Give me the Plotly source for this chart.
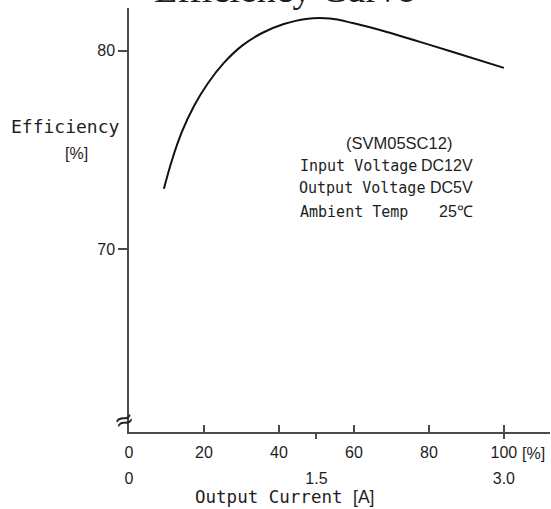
import plotly.graph_objects as go

# Data
load_pct = [9.3, 11.5, 14.1, 17.3, 21.1, 25.3, 30.1, 35.5, 41.3, 47.2, 53.6, 59.7, 68.8, 77.6, 86.4, 100.0]
efficiency = [73.03, 74.5, 75.9, 77.2, 78.37, 79.38, 80.24, 80.89, 81.34, 81.6, 81.62, 81.39, 80.94, 80.44, 79.93, 79.13]

pct_ticks = [0, 20, 40, 60, 80, 100]
amp_tick_vals = [0, 50, 100]
amp_tick_text = ["0", "1.5", "3.0"]
eff_ticks = [70, 80]

SANS = "Liberation Sans Narrow, Arial Narrow, Liberation Sans, Arial, sans-serif"
MONO = "DejaVu Sans Mono, monospace"
AXC = "#4a4a4a"
TXT = "#1e1e1e"

fig = go.Figure()
fig.add_trace(go.Scatter(x=load_pct, y=efficiency, mode="lines",
                         line=dict(color="#111", width=2, shape="spline", smoothing=1.0),
                         hoverinfo="skip", showlegend=False))
# invisible traces to activate extra axes
fig.add_trace(go.Scatter(x=[0], y=[70], xaxis="x2", yaxis="y", mode="markers",
                         marker=dict(opacity=0), showlegend=False, hoverinfo="skip"))
fig.add_trace(go.Scatter(x=[0], y=[70], xaxis="x3", yaxis="y", mode="markers",
                         marker=dict(opacity=0), showlegend=False, hoverinfo="skip"))

xr = [0, 112.3]
yr = [60.77, 82.15]

fig.update_layout(
    width=551, height=509,
    margin=dict(l=129, r=1, t=8, b=77),
    paper_bgcolor="white", plot_bgcolor="white",
    xaxis=dict(range=xr, tickvals=pct_ticks, ticks="inside", ticklen=7, tickwidth=1.5,
               tickcolor=AXC, showline=True, linecolor=AXC, linewidth=1.5,
               showgrid=False, zeroline=False, tickfont=dict(family=SANS, size=16, color=TXT),
               ticklabelstandoff=5),
    xaxis2=dict(range=xr, overlaying="x", anchor="y", side="bottom", tickvals=amp_tick_vals,
                ticktext=amp_tick_text, ticks="", showline=False, showgrid=False, zeroline=False,
                tickfont=dict(family=SANS, size=16, color=TXT), ticklabelstandoff=35),
    xaxis3=dict(range=xr, overlaying="x", anchor="y", side="bottom", tickvals=[50, 100],
                ticks="outside", ticklen=6, tickwidth=1.5, tickcolor=AXC, showticklabels=False,
                showline=False, showgrid=False, zeroline=False),
    yaxis=dict(range=yr, tickvals=eff_ticks, ticks="outside", ticklen=9, tickwidth=1.5,
               tickcolor=AXC, showline=True, linecolor=AXC, linewidth=1.5,
               showgrid=False, zeroline=False, tickfont=dict(family=SANS, size=16, color=TXT)),
    showlegend=False,
)

def ann(text, x, y, xanchor="center", yanchor="middle", size=15, family=MONO, **kw):
    fig.add_annotation(text=text, x=x, y=y, xref="paper", yref="paper", xanchor=xanchor, yanchor=yanchor,
                       showarrow=False, font=dict(family=family, size=size, color=TXT), **kw)

W, H, L, T, B = 551, 509, 129, 8, 77
PW, PH = W - L - 1, H - T - B
def px(xp):
    return (xp - L) / PW
def py(yp):
    return 1 - (yp - T) / PH

# Title (mostly cut off at the top)
ann("Efficiency Curve", px(284), py(12), yanchor="bottom", size=38,
    family="Liberation Serif, Times New Roman, serif")

# y-axis label
ann("Efficiency", px(65), py(126), size=18)
ann("[%]", px(76), py(153), size=16, family="Liberation Sans, Arial, sans-serif")

# x-axis label and unit
ann("Output Current <span style='font-family:Liberation Sans, Arial'>[A]</span>",
    px(284), py(497), size=17.5)
ann("[%]", px(533), py(453), size=16, family=SANS)

# Conditions block
ann("(SVM05SC12)", px(398.5), py(143), size=16.5, family=SANS)
ann("Input Voltage", px(298), py(165.5), xanchor="left", size=15)
ann("DC12V", px(475), py(165.5), xanchor="right", size=16, family=SANS)
ann("Output Voltage", px(297), py(187.5), xanchor="left", size=15)
ann("DC5V", px(475), py(187.5), xanchor="right", size=16, family=SANS)
ann("Ambient Temp", px(298), py(211.5), xanchor="left", size=15)
ann("25\u2103", px(475), py(211.5), xanchor="right", size=16, family=SANS)

# axis break mark
ann("\u2248", px(124), py(420), size=24, family="DejaVu Sans, sans-serif", textangle=-20)

fig.write_html("out.html", config={"displayModeBar": False},
               post_script="document.body.style.margin='0px';")
